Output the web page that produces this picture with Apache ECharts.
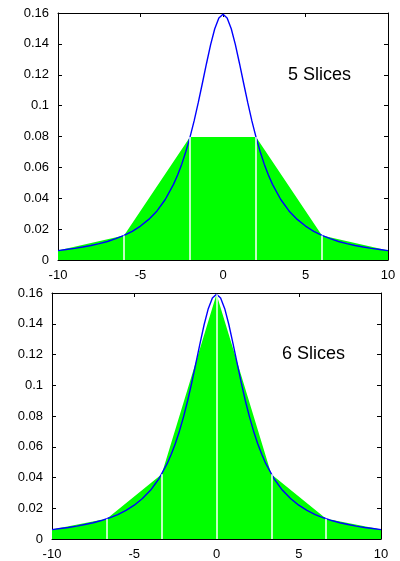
<!DOCTYPE html>
<html><head><meta charset="utf-8">
<script src="https://cdn.jsdelivr.net/npm/echarts@6/dist/echarts.min.js"></script>
<style>html,body{margin:0;padding:0;background:#fff}#c{width:400px;height:561px}</style>
</head><body><div id="c"></div>
<script>
// Blue density curve
const curveX = [-10,-9.5,-9,-8.5,-8,-7.5,-7,-6.5,-6,-5.5,-5,-4.5,-4,-3.5,-3,-2.75,-2.5,-2.25,-2,-1.75,-1.5,-1.25,-1,-0.75,-0.5,-0.25,0,0.25,0.5,0.75,1,1.25,1.5,1.75,2,2.25,2.5,2.75,3,3.5,4,4.5,5,5.5,6,6.5,7,7.5,8,8.5,9,9.5,10];
const curveY = [0.0061,0.0068,0.0075,0.0084,0.0094,0.0106,0.0120,0.0138,0.0159,0.0186,0.0220,0.0263,0.0318,0.0392,0.0490,0.0551,0.0621,0.0703,0.0796,0.0901,0.1019,0.1145,0.1273,0.1395,0.1498,0.1567,0.1592,0.1567,0.1498,0.1395,0.1273,0.1145,0.1019,0.0901,0.0796,0.0703,0.0621,0.0551,0.0490,0.0392,0.0318,0.0263,0.0220,0.0186,0.0159,0.0138,0.0120,0.0106,0.0094,0.0084,0.0075,0.0068,0.0061];
// 5 slices polygon
const slice5X = [-10,-6,-2,2,6,10];
const slice5Y = [0.0061,0.0159,0.0796,0.0796,0.0159,0.0061];
const div5X = [-6,-2,2,6];
const div5Y = [0.0159,0.0796,0.0796,0.0159];
// 6 slices polygon
const slice6X = [-10,-6.667,-3.333,0,3.333,6.667,10];
const slice6Y = [0.0061,0.0131,0.0421,0.1592,0.0421,0.0131,0.0061];
const div6X = [-6.667,-3.333,0,3.333,6.667];
const div6Y = [0.0131,0.0421,0.1592,0.0421,0.0131];
const xTicks = [-10,-5,0,5,10];
const yTicks = [0,0.02,0.04,0.06,0.08,0.1,0.12,0.14,0.16];
const titles = ['5 Slices','6 Slices'];

const zip = (a,b)=>a.map((v,i)=>[v,b[i]]);
const font = 'Liberation Sans, Arial, sans-serif';
const grids = [
  {left:58, top:13, width:330, height:247},
  {left:52, top:293, width:329, height:246}
];
const xAxes=[], yAxes=[];
grids.forEach((g,i)=>{
  const common = {min:xTicks[0], max:xTicks[xTicks.length-1], interval:5, gridIndex:i, splitLine:{show:false},
    axisLine:{show:true,onZero:false,lineStyle:{color:'#000',width:1}},
    axisTick:{show:true,inside:true,length:4,lineStyle:{color:'#000'}}};
  xAxes.push(Object.assign({type:'value',position:'bottom',
    axisLabel:{show:true,color:'#000',fontSize:13,fontFamily:font,margin:9}},common));
  xAxes.push(Object.assign({type:'value',position:'top',axisLabel:{show:false}},common));
  const cy = {min:yTicks[0], max:yTicks[yTicks.length-1], interval:0.02, gridIndex:i, splitLine:{show:false},
    axisLine:{show:true,onZero:false,lineStyle:{color:'#000',width:1}},
    axisTick:{show:true,inside:true,length:4,lineStyle:{color:'#000'}}};
  yAxes.push(Object.assign({type:'value',position:'left',
    axisLabel:{show:true,color:'#000',fontSize:13,fontFamily:font,margin:9,
      formatter:v=>String(+v.toFixed(2))}},cy));
  yAxes.push(Object.assign({type:'value',position:'right',axisLabel:{show:false}},cy));
});

function panelSeries(i, px, py, dx, dy){
  return [
    {type:'line', xAxisIndex:2*i, yAxisIndex:2*i, data:zip(px,py), symbol:'none',
      lineStyle:{width:0}, areaStyle:{color:'#00ff00',opacity:1}, z:1, silent:true,
      markLine:{symbol:['none','none'], silent:true, label:{show:false},
        lineStyle:{color:'#ffffff',width:1.5,type:'solid'},
        data: dx.map((x,k)=>[{coord:[x,0]},{coord:[x,dy[k]]}])}},
    {type:'line', xAxisIndex:2*i, yAxisIndex:2*i, data:zip(curveX,curveY), symbol:'none',
      smooth:false, lineStyle:{color:'#0000ff',width:1.4}, z:3, silent:true}
  ];
}

const chart = echarts.init(document.getElementById('c'), null, {renderer:'canvas'});
chart.setOption({
  animation:false,
  backgroundColor:'#fff',
  grid:grids,
  xAxis:xAxes,
  yAxis:yAxes,
  graphic:[
    {type:'text', left:288, top:66, style:{text:titles[0], fontSize:18, fontFamily:font, fill:'#000'}},
    {type:'text', left:282, top:345, style:{text:titles[1], fontSize:18, fontFamily:font, fill:'#000'}}
  ],
  series:[].concat(panelSeries(0,slice5X,slice5Y,div5X,div5Y), panelSeries(1,slice6X,slice6Y,div6X,div6Y))
});
</script></body></html>
